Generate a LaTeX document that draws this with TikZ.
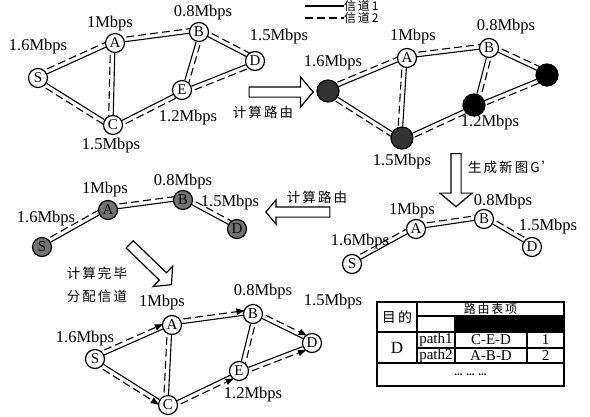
\documentclass[tikz,border=0pt]{standalone}
\usepackage{fontspec}
\setmainfont{Liberation Serif}
\newfontfamily\cjk[LetterSpace=15]{Noto Sans CJK SC}
\usetikzlibrary{arrows.meta,calc,shapes.arrows,backgrounds}

\tikzset{
  vtx/.style={circle, draw, line width=1.2pt, fill=white, inner sep=0pt,
    minimum size=19pt, font=\fontsize{15}{15}\selectfont},
  darkvtx/.style={vtx, fill=black!80, minimum size=22pt},
  blackvtx/.style={vtx, fill=black, minimum size=22pt},
  grayvtx/.style={vtx, fill=black!55, minimum size=19pt},
  rate/.style={inner sep=0pt, font=\fontsize{16.5}{16.5}\selectfont},
  zh/.style={inner sep=0pt, font=\cjk\fontsize{13.5}{14}\selectfont},
  link/.style={line width=1.1pt},
  chan/.style={line width=1.1pt, dash pattern=on 8pt off 4pt},
  flow/.style={chan, shorten >=7pt, -{Latex[length=9pt,width=7pt]}},
  bigarrow/.style={single arrow, draw, line width=1.2pt, fill=white,
    inner xsep=0pt, inner ysep=4.5pt, single arrow head indent=0pt,
    single arrow tip angle=100},
  cell/.style={rectangle, draw, line width=1.5pt, inner sep=0pt,
    font=\fontsize{15}{15}\selectfont}
}

% channel 1 (solid) with channel 2 (dashed) beside it
\newcommand{\chanpair}[3]{%
  \draw[link] (#1) -- (#2);
  \draw[chan] ($(#1)!#3!90:(#2)$) -- ($(#2)!#3!-90:(#1)$);}
\newcommand{\chanflow}[3]{%
  \draw[link] (#1) -- (#2);
  \draw[flow] ($(#1)!#3!90:(#2)$) -- ($(#2)!#3!-90:(#1)$);}

\begin{document}
\begin{tikzpicture}[x=1pt, y=-1pt]
\useasboundingbox (0,0) rectangle (590,416);

% legend
\node[zh, anchor=west, font=\cjk\fontsize{12}{12}\selectfont] (leg1) at (344,6) {信道1};
\node[zh, anchor=west, font=\cjk\fontsize{12}{12}\selectfont] (leg2) at (344,18) {信道2};
\draw[link, line width=1.6pt] ([xshift=-39pt]leg1.west) -- (leg1.west);
\draw[chan] ([xshift=-39pt]leg2.west) -- (leg2.west);

% graph G
\node[vtx] (s1) at (38,78) {S};
\node[vtx] (a1) at (115,43) {A};
\node[vtx] (b1) at (199,32) {B};
\node[vtx] (d1) at (255,61) {D};
\node[vtx] (e1) at (182,90) {E};
\node[vtx] (c1) at (113,125) {C};
\foreach \t/\p [count=\i] in {1.6Mbps/{(38,47)}, 1Mbps/{(110,24)},
    0.8Mbps/{(203,13)}, 1.5Mbps/{(279,37)}, 1.2Mbps/{(188,118)}, 1.5Mbps/{(111,146)}}
  \node[rate] (ra\i) at \p {\t};

% marked graph
\node[darkvtx] (s2) at (328,91) {};
\node[vtx] (a2) at (407,58) {A};
\node[vtx] (b2) at (489,48) {B};
\node[blackvtx] (d2) at (547,75) {};
\node[blackvtx] (e2) at (474,105) {};
\node[darkvtx] (c2) at (402,138) {};
\foreach \t/\p [count=\i] in {1.6Mbps/{(333,63)}, 1Mbps/{(413,37)},
    0.8Mbps/{(506,27)}, 1.2Mbps/{(490,123)}, 1.5Mbps/{(402,162)}}
  \node[rate] (rb\i) at \p {\t};

% new graph G'
\node[vtx] (s3) at (352,264) {S};
\node[vtx] (a3) at (416,229) {A};
\node[vtx] (b3) at (484,219) {B};
\node[vtx] (d3) at (532,247) {D};
\foreach \t/\p [count=\i] in {1.6Mbps/{(360,242)}, 1Mbps/{(412,211)},
    0.8Mbps/{(503,202)}, 1.5Mbps/{(548,227)}}
  \node[rate] (rc\i) at \p {\t};

% second route
\node[grayvtx] (s4) at (42,247) {S};
\node[grayvtx] (a4) at (108,210) {A};
\node[grayvtx] (b4) at (183,200) {B};
\node[grayvtx] (d4) at (237,229) {D};
\foreach \t/\p [count=\i] in {1.6Mbps/{(46,219)}, 1Mbps/{(105,190)},
    0.8Mbps/{(183,182)}, 1.5Mbps/{(230,203)}}
  \node[rate] (rd\i) at \p {\t};

% channels assigned
\node[vtx] (s5) at (95,359) {S};
\node[vtx] (a5) at (172,325) {A};
\node[vtx] (b5) at (253,314) {B};
\node[vtx] (d5) at (312,343) {D};
\node[vtx] (e5) at (239,371) {E};
\node[vtx] (c5) at (168,405) {C};
\foreach \t/\p [count=\i] in {1.6Mbps/{(85,339)}, 1Mbps/{(162,303)},
    0.8Mbps/{(263,292)}, 1.5Mbps/{(333,302)}, 1.2Mbps/{(253,395)}}
  \node[rate] (re\i) at \p {\t};

\begin{scope}[on background layer]
  \chanpair{s1}{a1}{4.5pt} \chanpair{s1}{c1}{-4.5pt} \chanpair{a1}{c1}{-4.5pt}
  \chanpair{a1}{b1}{4.5pt} \chanpair{b1}{d1}{4.5pt} \chanpair{b1}{e1}{4.5pt}
  \chanpair{c1}{e1}{-4.5pt} \chanpair{e1}{d1}{-4.5pt}
  \chanpair{s2}{a2}{4.5pt} \chanpair{s2}{c2}{-4.5pt} \chanpair{a2}{c2}{-4.5pt}
  \chanpair{a2}{b2}{4.5pt} \chanpair{b2}{d2}{4.5pt} \chanpair{b2}{e2}{4.5pt}
  \chanpair{c2}{e2}{-4.5pt} \chanpair{e2}{d2}{-4.5pt}
  \chanpair{s3}{a3}{4.5pt} \chanpair{a3}{b3}{4.5pt} \chanpair{b3}{d3}{4.5pt}
  \chanpair{s4}{a4}{4.5pt} \chanpair{a4}{b4}{4.5pt} \chanpair{b4}{d4}{4.5pt}
  \chanflow{s5}{a5}{4.5pt} \chanflow{s5}{c5}{-4.5pt} \chanpair{a5}{c5}{-4.5pt}
  \chanflow{a5}{b5}{4.5pt} \chanflow{b5}{d5}{4.5pt} \chanpair{b5}{e5}{4.5pt}
  \chanflow{c5}{e5}{-4.5pt} \chanflow{e5}{d5}{-4.5pt}
\end{scope}

% hollow step arrows
\node[bigarrow, minimum height=64pt, single arrow head extend=10pt] (go1) at (279,92) {};
\node[zh] (t1) at (263,112) {计算路由};
\node[bigarrow, minimum height=53pt, single arrow head extend=11pt, rotate=-90] (go2) at (456,178) {};
\node[zh, anchor=west] (t2) at (468,167) {生成新图G’};
\node[bigarrow, minimum height=64pt, single arrow head extend=7pt, rotate=180] (go3) at (300,212) {};
\node[zh] (t3) at (317,197) {计算路由};
\node[bigarrow, minimum height=58pt, single arrow head extend=9pt, rotate=-44] (go4) at (149,263) {};
\node[zh] (t4) at (97,273) {计算完毕};
\node[zh] (t5) at (97,296) {分配信道};

% routing table
\node[cell, minimum width=40pt, minimum height=30pt, font=\cjk\fontsize{14}{14}\selectfont] (dst) at (397,317) {目的};
\node[cell, minimum width=147pt, minimum height=14pt, font=\cjk\fontsize{12}{12}\selectfont] (head) at (490.5,309) {路由表项};
\node[cell, minimum width=38pt, minimum height=16pt] (blank) at (436,324) {};
\node[cell, minimum width=109pt, minimum height=16pt, fill=black] (bar) at (509.5,324) {};
\node[cell, minimum width=40pt, minimum height=31pt, font=\fontsize{17}{17}\selectfont] (dd) at (397,347.5) {D};
\node[cell, minimum width=38pt, minimum height=16pt] (p1) at (436,340) {path1};
\node[cell, minimum width=72pt, minimum height=16pt] (r1) at (491,340) {C-E-D};
\node[cell, minimum width=37pt, minimum height=16pt] (n1) at (545.5,340) {1};
\node[cell, minimum width=38pt, minimum height=15pt] (p2) at (436,355.5) {path2};
\node[cell, minimum width=72pt, minimum height=15pt] (r2) at (491,355.5) {A-B-D};
\node[cell, minimum width=37pt, minimum height=15pt] (n2) at (545.5,355.5) {2};
\node[cell, minimum width=187pt, minimum height=23pt, font=\fontsize{11}{11}\selectfont] (more) at (470.5,374.5) {\textbf{... ... ...}};
\end{tikzpicture}
\end{document}
